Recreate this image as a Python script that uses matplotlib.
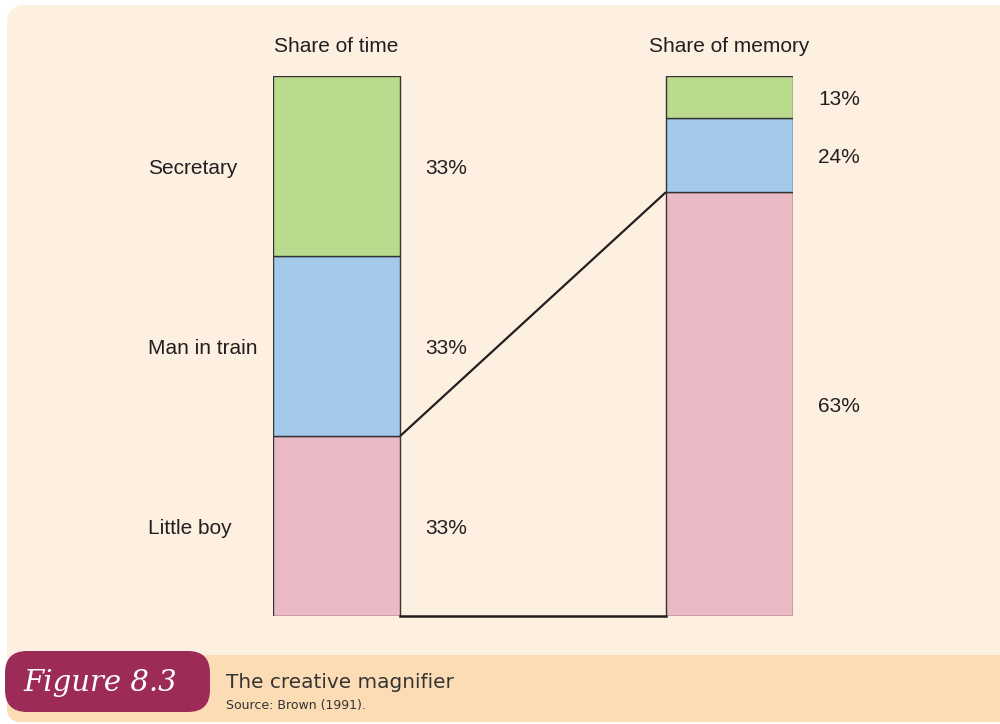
import matplotlib
matplotlib.use("Agg")
import matplotlib.pyplot as plt
from matplotlib.patches import FancyBboxPatch

plt.rcParams['font.family'] = ['Liberation Sans', 'DejaVu Sans']

# data
categories = ['Little boy', 'Man in train', 'Secretary']
time_share = [33.3, 33.3, 33.4]          # drawn segment heights (equal thirds)
time_labels = ['33%', '33%', '33%']
memory_share = [78.5, 13.7, 7.8]         # drawn segment heights as seen in figure
memory_labels = ['63%', '24%', '13%']
columns = ['Share of time', 'Share of memory']
seg_colors = ['#ecbac5', '#a3c9eb', '#badb8d']

cream = '#fdf0e1'
peach = '#fcdcb4'
maroon = '#9c2b57'
ink = '#231f20'

W, H = 1000, 724
fig = plt.figure(figsize=(W / 100, H / 100), dpi=100)
fig.patch.set_facecolor('white')

# background decorations in pixel space
bg = fig.add_axes([0, 0, 1, 1])
bg.set_xlim(0, W)
bg.set_ylim(H, 0)
bg.axis('off')
bg.add_patch(FancyBboxPatch((7, 5), 1020, 715, boxstyle='round,pad=0,rounding_size=18',
                            facecolor=cream, edgecolor='none'))
bg.add_patch(FancyBboxPatch((7, 655), 1020, 67, boxstyle='round,pad=0,rounding_size=14',
                            facecolor=peach, edgecolor='none'))
bg.add_patch(FancyBboxPatch((5, 651), 205, 61, boxstyle='round,pad=0,rounding_size=22',
                            facecolor=maroon, edgecolor='none'))
bg.text(100, 683, 'Figure 8.3', color='white', fontsize=21, style='italic',
        family=['DejaVu Serif'], ha='center', va='center')
bg.text(226, 682, 'The creative magnifier', color='#333333', fontsize=14.4,
        family=['DejaVu Sans'], ha='left', va='center')
bg.text(226, 705, 'Source: Brown (1991).', color='#333333', fontsize=9,
        family=['DejaVu Sans'], ha='left', va='center')

# chart axes: bars at x=0 and x=1
bw = 127 / 393
ax = fig.add_axes([273 / W, (H - 616) / H, 520 / W, 540 / H])
ax.patch.set_alpha(0)
ax.set_xlim(-bw / 2, 1 + bw / 2)
ax.set_ylim(0, 100)
ax.axis('off')

for xi, vals in enumerate([time_share, memory_share]):
    bottom = 0
    for v, c in zip(vals, seg_colors):
        ax.bar(xi, v, bw, bottom=bottom, color=c, edgecolor='#333333',
               linewidth=1.0, zorder=2)
        bottom += v

# connecting lines (little boy segment)
ax.plot([bw / 2, 1 - bw / 2], [time_share[0], memory_share[0]], color=ink, lw=1.6,
        zorder=3, solid_capstyle='butt', clip_on=False)
ax.plot([bw / 2, 1 - bw / 2], [0, 0], color=ink, lw=1.8, zorder=3, clip_on=False)

fs = 15
px = 1 / 393  # data units per pixel (x)
dy = -0.37    # small downward nudge (~2 px)
# column titles
for xi, t in enumerate(columns):
    ax.text(xi, 105.8 + dy, t, ha='center', va='center', fontsize=fs, color=ink, clip_on=False)

# category labels and percentages
bottom = 0
for cat, v, lab in zip(categories, time_share, time_labels):
    yc = bottom + v / 2 + dy
    ax.text(-bw / 2 - 125 * px, yc, cat, ha='left', va='center', fontsize=fs, color=ink)
    ax.text(bw / 2 + 25 * px, yc, lab, ha='left', va='center', fontsize=fs, color=ink)
    bottom += v

bottom = 0
for v, lab in zip(memory_share, memory_labels):
    yc = bottom + v / 2 + dy
    ax.text(1 + bw / 2 + 25 * px, yc, lab, ha='left', va='center', fontsize=fs, color=ink)
    bottom += v

fig.savefig('out.png', dpi=100)
